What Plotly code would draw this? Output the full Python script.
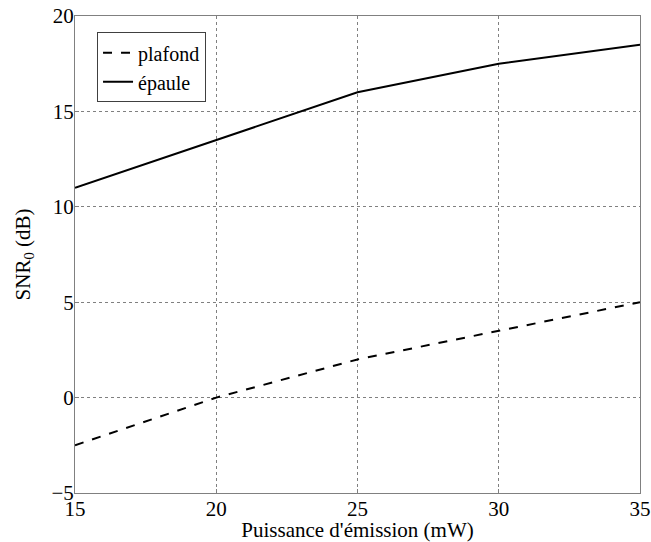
import plotly.graph_objects as go

puissance = [15, 20, 25, 30, 35]
snr_plafond = [-2.5, 0, 2, 3.5, 5]
snr_epaule = [11, 13.5, 16, 17.5, 18.5]

font = "Liberation Serif, Times New Roman, serif"

fig = go.Figure()
fig.add_trace(go.Scatter(x=puissance, y=snr_plafond, mode="lines", name="plafond",
                         line=dict(color="black", width=2, dash="dash")))
fig.add_trace(go.Scatter(x=puissance, y=snr_epaule, mode="lines", name="épaule",
                         line=dict(color="black", width=2)))

axis_common = dict(showline=True, linecolor="#808080", linewidth=1, mirror=True,
                   showgrid=True, gridcolor="#808080", griddash="dot", gridwidth=1,
                   zeroline=False, ticks="inside", ticklen=4, tickcolor="#808080",
                   automargin=False,
                   tickfont=dict(family=font, size=21, color="black"))

fig.update_xaxes(range=[15, 35], tickvals=[15, 20, 25, 30, 35], ticklabelstandoff=-3,
                 title=dict(text="Puissance d'émission (mW)", font=dict(family=font, size=21, color="black")),
                 **axis_common)
fig.update_yaxes(range=[-5, 20], tickvals=[-5, 0, 5, 10, 15, 20], ticklabelstandoff=-4,
                 title=dict(text="SNR<sub>0</sub> (dB)", font=dict(family=font, size=21, color="black")),
                 **axis_common)

fig.update_layout(
    width=651, height=542,
    margin=dict(l=75, r=11, t=16, b=49),
    plot_bgcolor="white", paper_bgcolor="white",
    font=dict(family=font, color="black"),
    legend=dict(x=0.039, y=0.966, xanchor="left", yanchor="top",
                bgcolor="white", bordercolor="#404040", borderwidth=1,
                font=dict(family=font, size=20, color="black"),
                tracegroupgap=0, itemwidth=30),
    showlegend=True,
)

fig.write_html("out.html", config={"displayModeBar": False},
               post_script="document.body.style.margin='0';")
